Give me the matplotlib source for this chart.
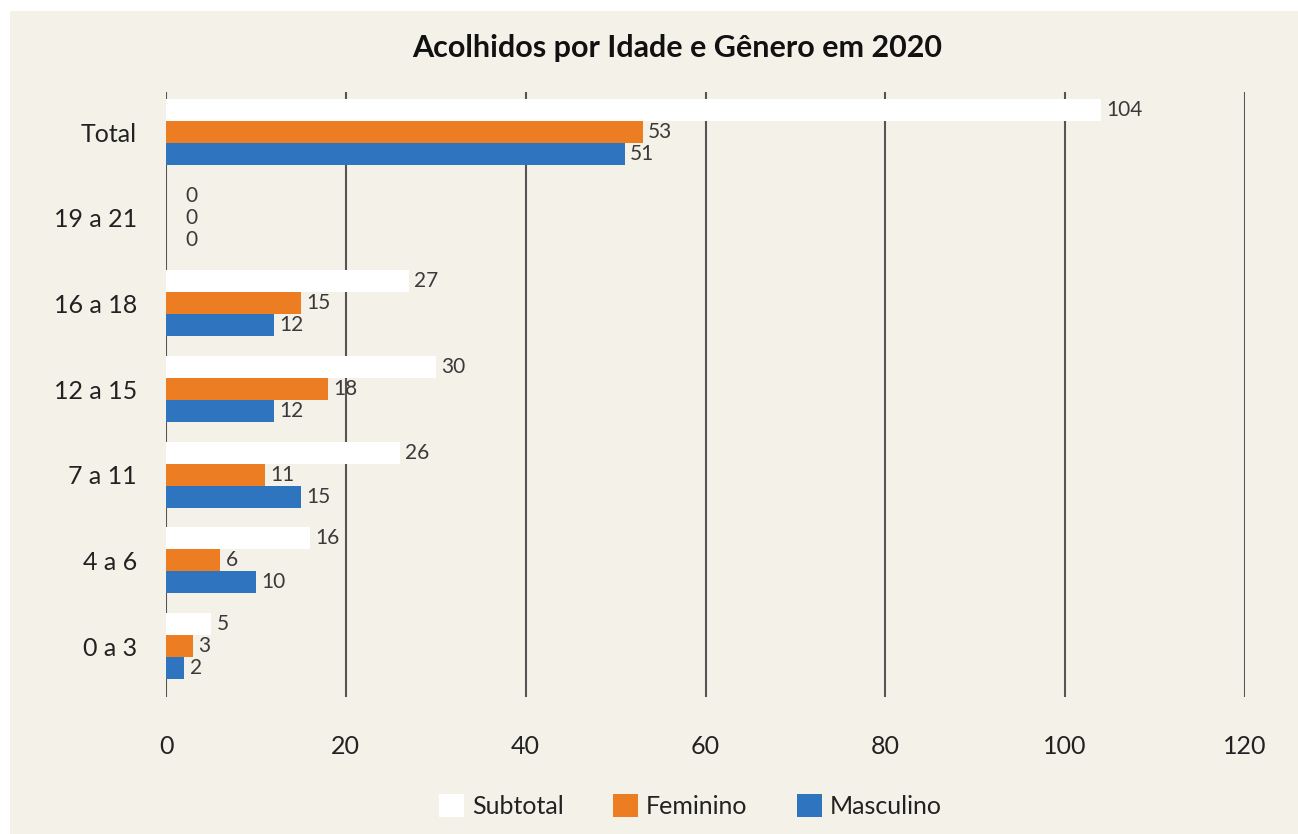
import matplotlib.pyplot as plt
from matplotlib.patches import Rectangle
import numpy as np

plt.rcParams['font.family'] = ['Lato', 'DejaVu Sans']

categories = ["0 a 3", "4 a 6", "7 a 11", "12 a 15", "16 a 18", "19 a 21", "Total"]
subtotal = [5, 16, 26, 30, 27, 0, 104]
feminino = [3, 6, 11, 18, 15, 0, 53]
masculino = [2, 10, 15, 12, 12, 0, 51]
xticks = [0, 20, 40, 60, 80, 100, 120]

bg = "#F4F1E9"
orange = "#ED7D22"
blue = "#2F74BF"

fig = plt.figure(figsize=(12.98, 8.34), dpi=100)
fig.patches.append(Rectangle((10 / 1298, 0), 1, 1 - 11 / 834, transform=fig.transFigure,
                             facecolor=bg, edgecolor="none", zorder=-10))

ax = fig.add_axes([166 / 1298, 1 - 697 / 834, 1079 / 1298, 605 / 834])
ax.set_zorder(1)
ax.patch.set_alpha(0)

y = np.arange(len(categories))
h = 0.257
series = [(subtotal, "Subtotal", "white", h), (feminino, "Feminino", orange, 0), (masculino, "Masculino", blue, -h)]
for vals, name, col, off in series:
    ax.barh(y + off, vals, height=h, color=col, label=name, zorder=3)
    for v, yy in zip(vals, y + off):
        pad = 14 if v == 0 else 4
        ax.annotate(str(v), (v, yy), xytext=(pad, 0), textcoords="offset points",
                    va="center", ha="left", fontsize=15, color="#3a3a3a")

ax.set_xlim(0, 120)
ax.set_ylim(-0.595, 6.467)
ax.set_xticks(xticks)
ax.set_yticks(y)
ax.set_yticklabels(categories)
ax.grid(axis="x", color="#555555", linewidth=1.5, zorder=1)
for s in ax.spines.values():
    s.set_visible(False)
ax.tick_params(axis="both", length=0, labelsize=18, colors="#222222")
ax.tick_params(axis="x", pad=27)
ax.tick_params(axis="y", pad=21)

fig.text(0.522, 1 - 48 / 834, "Acolhidos por Idade e Gênero em 2020", ha="center", va="center",
         fontsize=22, fontweight="bold", color="#111111")

fig.legend(loc="center", bbox_to_anchor=(0.532, 1 - 806 / 834), ncol=3, frameon=False,
           fontsize=18, handlelength=1.0, handleheight=1.0, handletextpad=0.3, columnspacing=2.0,
           labelcolor="#222222")

fig.savefig("out.png", dpi=100)
